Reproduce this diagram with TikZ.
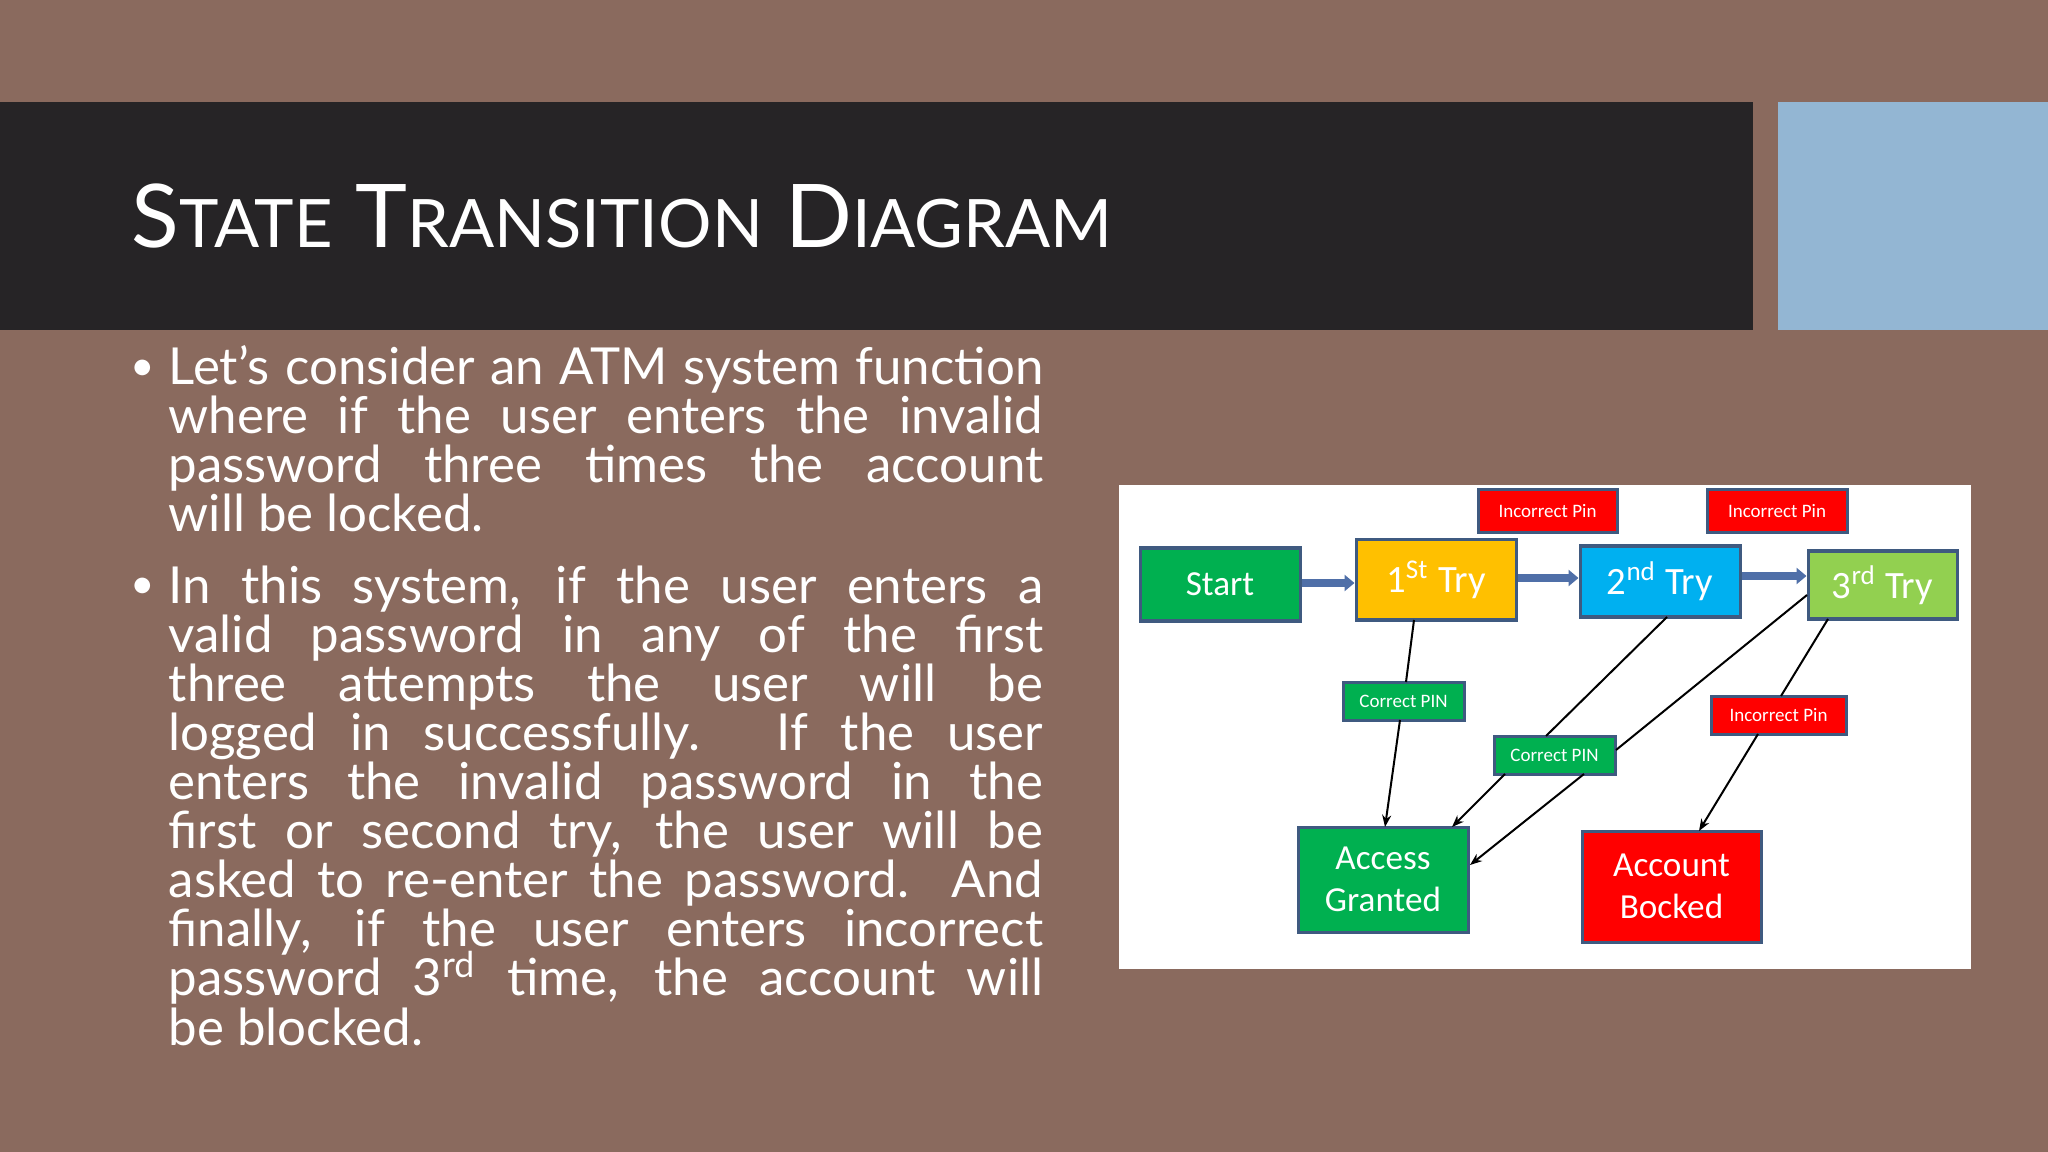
\documentclass[tikz,border=0pt]{standalone}
\usepackage{fontspec}
\setmainfont{Lato}
\newfontfamily\dfont{Carlito}
\usetikzlibrary{arrows.meta}
\definecolor{bg}{HTML}{8A6A5E}
\definecolor{bar}{HTML}{262426}
\definecolor{sky}{HTML}{93B6D3}
\definecolor{gr}{HTML}{00B050}
\definecolor{og}{HTML}{FFC000}
\definecolor{bl}{HTML}{00B0F0}
\definecolor{lg}{HTML}{92D050}
\definecolor{rd}{HTML}{FF0000}
\definecolor{edge}{HTML}{3F5A80}
\definecolor{blk}{HTML}{4F6FA8}
\tikzset{
  box/.style={draw=edge,line width=0.03cm,inner sep=0pt,text=white,align=center},
  small/.style={box,font=\dfont\fontsize{5.4}{6}\selectfont},
  big/.style={box,font=\dfont\fontsize{10}{12}\selectfont},
  blockarr/.style={blk,line width=0.07cm,-{Triangle[length=0.1cm,width=0.16cm]}},
  conn/.style={black,line width=0.02cm,-{Stealth[length=0.12cm,width=0.09cm]}},
  plain/.style={black,line width=0.02cm}
}
\newcommand{\bx}[6]{\node[#1,fill=#2,minimum width=#5*0.01cm-#3*0.01cm,minimum height=#6*0.01cm-#4*0.01cm] at (#3/2+#5/2,#4/2+#6/2)}
\begin{document}
\begin{tikzpicture}[x=0.01cm,y=-0.01cm]
\fill[bg] (0,0) rectangle (2048,1152);
\fill[bar] (0,102) rectangle (1753,330);
\fill[sky] (1778,102) rectangle (2048,330);
\node[anchor=base west,text=white,inner sep=0pt,font=\fontsize{25}{30}\selectfont] (title) at (131,248)
  {S{\fontsize{19}{24}\selectfont TATE} T{\fontsize{19}{24}\selectfont RANSITION} D{\fontsize{19}{24}\selectfont IAGRAM}};
% body text
\node[anchor=base west,text=white,inner sep=0pt,font=\fontsize{12}{14}\selectfont] (b1) at (130,381) {•};
\node[anchor=base west,text=white,inner sep=0pt,font=\fontsize{12}{14}\selectfont] (b2) at (130,599) {•};
\node[anchor=base west,text=white,inner sep=0pt,align=left,font=\fontsize{14.5}{13.95}\selectfont] (p1) at (168,532)
{\makebox[8.74cm][s]{Let\symbol{"0027}s consider an ATM system function}\\
\makebox[8.74cm][s]{where if the user enters the invalid}\\
\makebox[8.74cm][s]{password three times the account}\\
will be locked.};
\node[anchor=base west,text=white,inner sep=0pt,align=left,font=\fontsize{14.5}{13.95}\selectfont] (p2) at (168,1045)
{\makebox[8.74cm][s]{In this system, if the user enters a}\\
\makebox[8.74cm][s]{valid password in any of the first}\\
\makebox[8.74cm][s]{three attempts the user will be}\\
\makebox[8.74cm][s]{logged in successfully. If the user}\\
\makebox[8.74cm][s]{enters the invalid password in the}\\
\makebox[8.74cm][s]{first or second try, the user will be}\\
\makebox[8.74cm][s]{asked to re-enter the password. And}\\
\makebox[8.74cm][s]{finally, if the user enters incorrect}\\
\makebox[8.74cm][s]{password 3\smash{\textsuperscript{rd}} time, the account will}\\
be blocked.};
% diagram
\fill[white] (1119,485) rectangle (1971,969);
\bx{big}{gr}{1140}{548}{1300}{621} (start) {Start};
\bx{big}{og}{1356}{540}{1516}{620} (t1) {\fontsize{11}{13}\selectfont 1\textsuperscript{St} Try};
\bx{big}{bl}{1580}{546}{1740}{617} (t2) {\fontsize{11}{13}\selectfont 2\textsuperscript{nd} Try};
\bx{big}{lg}{1808}{551}{1957}{619} (t3) {\fontsize{11}{13}\selectfont 3\textsuperscript{rd} Try};
\bx{small}{rd}{1478}{490}{1617}{533} (ip1) {Incorrect Pin};
\bx{small}{rd}{1707}{490}{1847}{533} (ip2) {Incorrect Pin};
\bx{small}{gr}{1343}{682}{1464}{720} (cp1) {Correct PIN};
\bx{small}{gr}{1494}{736}{1615}{774} (cp2) {Correct PIN};
\bx{small}{rd}{1711}{696}{1846}{734} (ip3) {Incorrect Pin};
\bx{big}{gr}{1298}{827}{1468}{932} (ag) {\fontsize{10}{13.5}\selectfont Access\\Granted};
\bx{big}{rd}{1582}{831}{1761}{942} (ab) {\fontsize{10}{13.5}\selectfont Account\\Bocked};
% block arrows
\draw[blockarr] (start.east|-0,583) -- (t1.west|-0,583);
\draw[blockarr] (t1.east|-0,578) -- (t2.west|-0,578);
\draw[blockarr] (t2.east|-0,576) -- (t3.west|-0,576);
% connector points
\coordinate (a1) at (1414,620); \coordinate (a2) at (1406,682);
\coordinate (a3) at (1400,720); \coordinate (a4) at (1385,827);
\coordinate (b1s) at (1667,617); \coordinate (b2s) at (1546,736);
\coordinate (b3s) at (1505,774); \coordinate (b4s) at (1452,827);
\coordinate (c1) at (1807,595); \coordinate (c2) at (1616,750);
\coordinate (c3) at (1584,774); \coordinate (c4) at (1470,865);
\coordinate (d1) at (1828,619); \coordinate (d2) at (1781,696);
\coordinate (d3) at (1758,734); \coordinate (d4) at (1699,831);
\draw[plain] (a1) -- (a2); \draw[conn] (a3) -- (a4);
\draw[plain] (b1s) -- (b2s); \draw[conn] (b3s) -- (b4s);
\draw[plain] (c1) -- (c2); \draw[conn] (c3) -- (c4);
\draw[plain] (d1) -- (d2); \draw[conn] (d3) -- (d4);
\end{tikzpicture}
\end{document}
